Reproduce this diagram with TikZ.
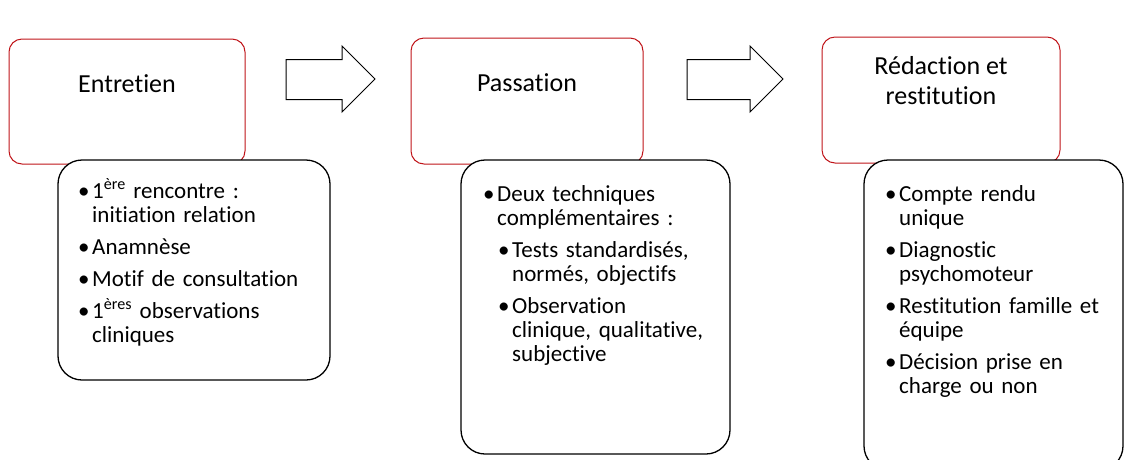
\documentclass[tikz,border=0pt]{standalone}
\usepackage{fontspec}
\setmainfont{Carlito}[Ligatures=NoCommon]
\usetikzlibrary{positioning}
\definecolor{boxred}{RGB}{192,20,25}
\newcommand{\bul}[2][0pt]{\par\leavevmode\hangindent=\dimexpr#1+14pt\relax\hangafter=1\hspace*{#1}\makebox[14pt][l]{\textbullet}\rule{0pt}{17pt}#2}

\begin{document}
\begin{tikzpicture}[x=1pt,y=-1pt,
  stepbox/.style={draw=boxred,line width=1pt,rounded corners=13pt,fill=white,inner sep=0pt},
  listbox/.style={draw=black,line width=1.3pt,rounded corners=24pt,fill=white,inner sep=0pt},
  steptitle/.style={font=\fontsize{26}{30}\selectfont,align=center,inner sep=0pt},
  listtext/.style={anchor=north west,inner sep=0pt,text width=240pt,
    font=\fontsize{23}{24}\selectfont\setlength{\parskip}{8pt}\setlength{\parindent}{0pt}}]
\useasboundingbox (0,0) rectangle (1126,459);
% step boxes
\node[stepbox,minimum width=236pt,minimum height=125pt] (entretien) at (127,101.5) {};
\node[stepbox,minimum width=232pt,minimum height=126pt] (passation) at (527,101) {};
\node[stepbox,minimum width=238pt,minimum height=126pt] (redaction) at (941,100) {};
\node[steptitle,anchor=base] (entretien-t) at (127,92) {Entretien};
\node[steptitle,anchor=base] (passation-t) at (527,91) {Passation};
\node[steptitle,anchor=north] (redaction-t) at (941,56) {Rédaction et\\restitution};
% block arrows
\foreach \a/\b/\c in {286/342/375,687/750/783}
  \draw[line width=1pt,fill=white] (\a,59.5) -- (\b,59.5) -- (\b,46) -- (\c,79)
    -- (\b,112) -- (\b,99.5) -- (\a,99.5) -- cycle;
% list boxes
\node[listbox,minimum width=272pt,minimum height=220pt] (entretien-l) at (194,270) {};
\node[listbox,minimum width=269pt,minimum height=294pt] (passation-l) at (595.5,307) {};
\node[listbox,minimum width=259pt,minimum height=310pt] (redaction-l) at (993.5,315) {};
\node[listtext] (entretien-x) at (78,166) {%
  \bul{1\textsuperscript{ère} rencontre :\newline initiation relation}
  \bul{Anamnèse}
  \bul{Motif de consultation}
  \bul{1\textsuperscript{ères} observations\newline cliniques}\par};
\node[listtext] (passation-x) at (483,169) {%
  \bul{Deux techniques\newline complémentaires :}
  \bul[15pt]{Tests standardisés,\newline normés, objectifs}
  \bul[15pt]{Observation\newline clinique, qualitative,\newline subjective}\par};
\node[listtext] (redaction-x) at (885,169) {%
  \bul{Compte rendu\newline unique}
  \bul{Diagnostic\newline psychomoteur}
  \bul{Restitution famille et\newline équipe}
  \bul{Décision prise en\newline charge ou non}\par};
\end{tikzpicture}
\end{document}
